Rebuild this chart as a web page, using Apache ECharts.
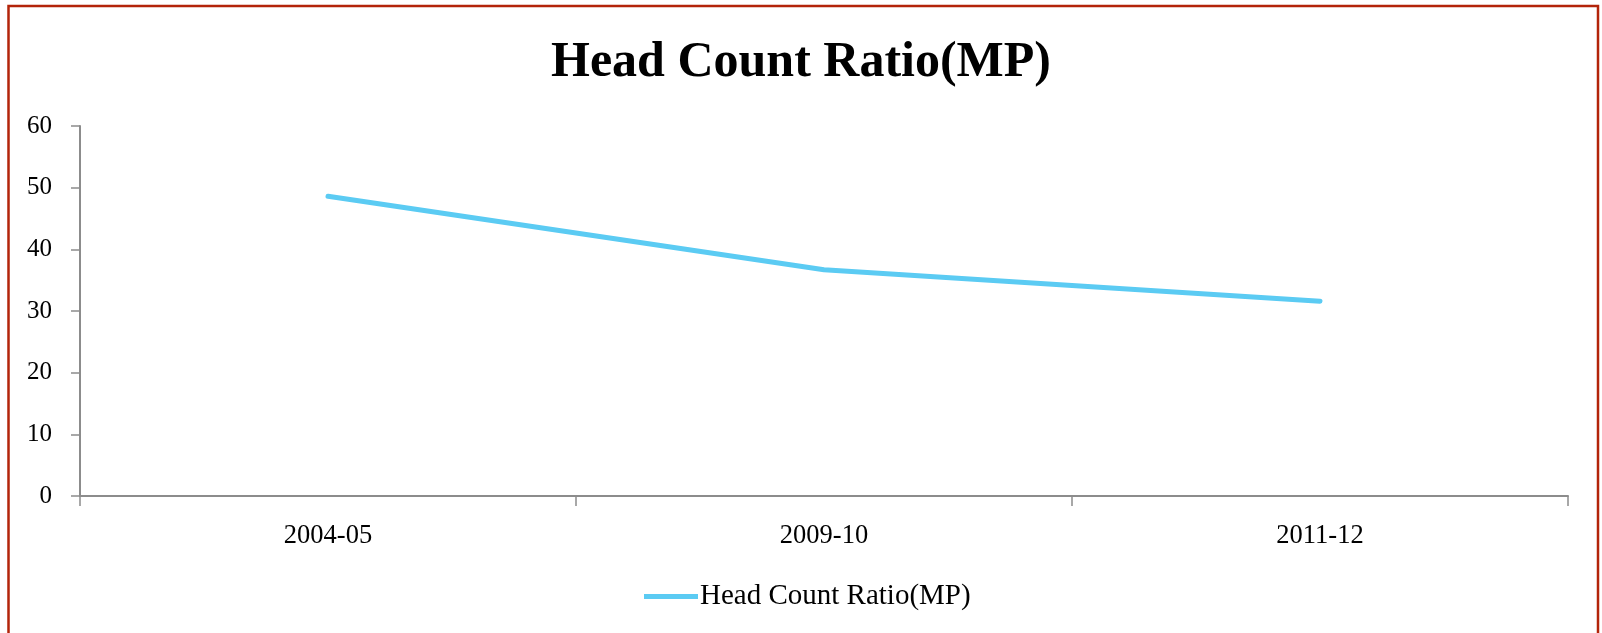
<!DOCTYPE html>
<html>
<head>
<meta charset="utf-8">
<script src="https://cdn.jsdelivr.net/npm/echarts@6/dist/echarts.min.js"></script>
<style>
html,body{margin:0;padding:0;background:#fff;}
#chart{width:1602px;height:633px;}
</style>
</head>
<body>
<div id="chart"></div>
<script>
const categories = ['2004-05', '2009-10', '2011-12'];
const headCountRatio = [48.6, 36.7, 31.6];
const yTicks = [0, 10, 20, 30, 40, 50, 60];
const seriesName = 'Head Count Ratio(MP)';
const chartTitle = 'Head Count Ratio(MP)';

const FONT = '"Liberation Serif", "DejaVu Serif", serif';
const chart = echarts.init(document.getElementById('chart'), null, {renderer: 'canvas'});
chart.setOption({
  backgroundColor: '#ffffff',
  animation: false,
  title: {
    text: chartTitle,
    left: 'center',
    top: 33,
    textStyle: {fontFamily: FONT, fontSize: 50, fontWeight: 'bold', color: '#000'}
  },
  graphic: [{
    type: 'rect',
    shape: {x: 8.5, y: 6, width: 1589.5, height: 700},
    style: {fill: 'none', stroke: '#B3240A', lineWidth: 2.5},
    silent: true
  }],
  legend: {
    data: [seriesName],
    left: 639,
    top: 577,
    itemWidth: 54,
    itemHeight: 14,
    itemGap: 10,
    textStyle: {fontFamily: FONT, fontSize: 29, color: '#000', padding: [0,0,0,-3]},
    icon: 'path://M0,0 L54,0 L54,5 L0,5 Z'
  },
  grid: {left: 80, right: 34, top: 126, bottom: 137, containLabel: false},
  xAxis: {
    type: 'category',
    data: categories,
    boundaryGap: true,
    axisLine: {lineStyle: {color: '#8c8c8c', width: 2}},
    axisTick: {show: true, length: 10, lineStyle: {color: '#8c8c8c', width: 1.5}},
    axisLabel: {fontFamily: FONT, fontSize: 26.5, color: '#000', margin: 27}
  },
  yAxis: {
    type: 'value',
    min: yTicks[0],
    max: yTicks[yTicks.length - 1],
    interval: 10,
    axisLine: {show: true, lineStyle: {color: '#8c8c8c', width: 2}},
    axisTick: {show: true, length: 9, lineStyle: {color: '#8c8c8c', width: 1.5}},
    splitLine: {show: false},
    axisLabel: {fontFamily: FONT, fontSize: 25, color: '#000', margin: 28}
  },
  series: [{
    name: seriesName,
    type: 'line',
    data: headCountRatio,
    symbol: 'none',
    lineStyle: {color: '#5BCBF3', width: 5, cap: 'round', join: 'round'},
    itemStyle: {color: '#5BCBF3'}
  }]
});
</script>
</body>
</html>
